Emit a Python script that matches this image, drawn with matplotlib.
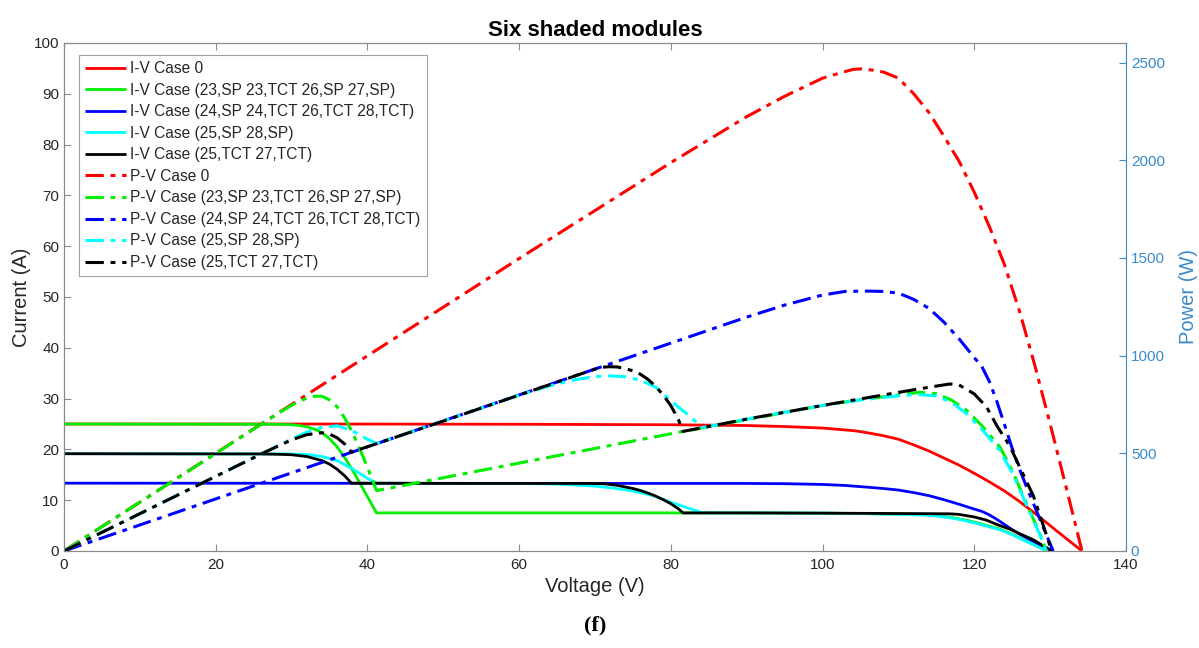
import numpy as np
import matplotlib
matplotlib.use("Agg")
import matplotlib.pyplot as plt

plt.rcParams['font.family'] = ['Liberation Sans', 'DejaVu Sans']

# ---------------- data ----------------
labels_iv = ["I-V Case 0",
             "I-V Case (23,SP 23,TCT 26,SP 27,SP)",
             "I-V Case (24,SP 24,TCT 26,TCT 28,TCT)",
             "I-V Case (25,SP 28,SP)",
             "I-V Case (25,TCT 27,TCT)"]
labels_pv = ["P-V Case 0",
             "P-V Case (23,SP 23,TCT 26,SP 27,SP)",
             "P-V Case (24,SP 24,TCT 26,TCT 28,TCT)",
             "P-V Case (25,SP 28,SP)",
             "P-V Case (25,TCT 27,TCT)"]

# Case 0
v_case0 = [0, 30, 60, 80, 90, 95, 100, 102, 104, 105, 106, 108, 110, 112, 114, 116, 118,
           120, 122, 124, 126, 128, 130, 132, 134.2]
i_case0 = [25.0, 25.0, 24.95, 24.85, 24.7, 24.5, 24.2, 23.95, 23.7, 23.5, 23.25, 22.7, 22.0,
           20.9, 19.7, 18.3, 16.9, 15.3, 13.6, 11.8, 9.7, 7.4, 5.0, 2.6, 0.0]

# Case (23,SP 23,TCT 26,SP 27,SP)
v_case23 = [0, 28, 30, 31, 32, 33, 34, 35, 36, 37, 38, 39, 40, 41.2, 60, 80, 100, 105, 110,
            112.8, 115, 117, 119, 121, 123.4, 125, 126.9, 128.5, 129.5]
i_case23 = [25.0, 24.95, 24.85, 24.7, 24.45, 24.0, 23.3, 22.1, 20.5, 18.4, 16.0, 13.4, 10.7,
            7.5, 7.5, 7.5, 7.45, 7.38, 7.26, 7.2, 7.0, 6.6, 6.05, 5.3, 4.3, 3.3, 1.9, 0.8, 0.0]

# Case (24,SP 24,TCT 26,TCT 28,TCT)
v_case24 = [0, 40, 80, 90, 95, 100, 103, 106, 108, 110, 112, 114, 116, 118, 120, 121, 122,
            123, 124, 125, 126, 127, 128, 129, 130.4]
i_case24 = [13.35, 13.33, 13.3, 13.3, 13.25, 13.1, 12.9, 12.55, 12.3, 12.0, 11.5, 10.9, 10.1,
            9.2, 8.25, 7.8, 7.1, 6.2, 5.2, 4.2, 3.3, 2.5, 1.75, 1.0, 0.0]

# Case (25,SP 28,SP)
v_case25sp = [0, 30, 32, 34, 36, 38, 40, 41.2, 50, 60, 64, 66, 68, 70, 72, 74, 76, 78, 80,
              82, 84.2, 90, 100, 105, 110, 112.5, 115, 117, 119, 121, 123.4, 125, 126.9,
              128.5, 129.5]
i_case25sp = [19.15, 19.1, 19.0, 18.6, 17.8, 16.2, 14.3, 13.35, 13.3, 13.3, 13.2, 13.1, 12.95,
              12.75, 12.45, 12.05, 11.5, 10.75, 9.6, 8.6, 7.5, 7.5, 7.45, 7.36, 7.22, 7.12,
              6.9, 6.5, 5.9, 5.15, 4.15, 3.2, 1.85, 0.75, 0.0]

# Case (25,TCT 27,TCT)
v_case25tct = [0, 26, 28, 30, 32, 34, 35, 36, 37, 37.9, 50, 70, 71, 72, 73, 74, 75, 76, 77,
               78, 79, 80, 81, 81.6, 90, 100, 110, 114, 116.8, 118, 120, 121.6, 123, 124.7,
               126, 127.8, 129, 130.2]
i_case25tct = [19.15, 19.1, 19.05, 18.95, 18.6, 17.8, 17.1, 16.1, 14.8, 13.35, 13.3, 13.3,
               13.25, 13.1, 12.9, 12.6, 12.3, 11.9, 11.4, 10.8, 10.1, 9.3, 8.3, 7.5, 7.5,
               7.45, 7.38, 7.35, 7.32, 7.2, 6.7, 6.07, 5.2, 4.3, 3.4, 2.2, 1.1, 0.0]

series_v = [v_case0, v_case23, v_case24, v_case25sp, v_case25tct]
series_i = [i_case0, i_case23, i_case24, i_case25sp, i_case25tct]
colors = ['#ff0000', '#00ee00', '#0000ff', '#00ffff', '#000000']

x_ticks = [0, 20, 40, 60, 80, 100, 120, 140]
y_ticks = [0, 10, 20, 30, 40, 50, 60, 70, 80, 90, 100]
p_ticks = [0, 500, 1000, 1500, 2000, 2500]

# ---------------- figure ----------------
W, H = 1199, 648
fig = plt.figure(figsize=(W / 100, H / 100), dpi=100)
ax = fig.add_axes([64 / W, 97 / H, 1062 / W, 508 / H])
ax2 = ax.twinx()

axis_gray = '#8a8a8a'
text_gray = '#262626'
right_blue = '#3a8ac8'
dashdot = (0, (6, 2.2, 1.6, 2.2))

handles = []
for v, i, c in zip(series_v, series_i, colors):
    h, = ax.plot(v, i, color=c, lw=2.0, solid_capstyle='butt')
    handles.append(h)

for v, i, c in zip(series_v, series_i, colors):
    p = np.multiply(v, i)
    h, = ax2.plot(v, p, color=c, lw=2.2, linestyle=dashdot)
    handles.append(h)

ax.set_xlim(0, 140)
ax.set_ylim(0, 100)
ax2.set_ylim(0, 2600)
ax.set_xticks(x_ticks)
ax.set_yticks(y_ticks)
ax2.set_yticks(p_ticks)

ax.tick_params(axis='both', direction='in', length=5, width=0.8, colors=axis_gray,
               labelcolor=text_gray, labelsize=11, top=True, right=False)
ax.tick_params(axis='x', pad=5)
ax2.tick_params(axis='y', direction='in', length=5, width=0.8, colors=right_blue,
                labelcolor=right_blue, labelsize=11)

for s in ['left', 'top', 'bottom']:
    ax.spines[s].set_color(axis_gray)
    ax2.spines[s].set_color(axis_gray)
ax.spines['right'].set_visible(False)
ax2.spines['right'].set_color(right_blue)

ax.set_xlabel('Voltage (V)', fontsize=14.5, color=text_gray, labelpad=4)
ax.set_ylabel('Current (A)', fontsize=14.5, color=text_gray, labelpad=2)
ax2.set_ylabel('Power (W)', fontsize=14.5, color=right_blue, labelpad=10)
ax.set_title('Six shaded modules', fontsize=16, fontweight='bold', color='black', pad=5)

leg = ax2.legend(handles, labels_iv + labels_pv, loc='upper left',
                 bbox_to_anchor=(15 / 1062, 1 - 12 / 508), fontsize=11.2,
                 frameon=True, fancybox=False, handlelength=2.6, handletextpad=0.3,
                 borderpad=0.4, labelspacing=0.42, borderaxespad=0)
leg.get_frame().set_edgecolor(axis_gray)
leg.get_frame().set_linewidth(0.8)
for t in leg.get_texts():
    t.set_color(text_gray)

fig.text(595 / W, 1 - 625 / H, '(f)', ha='center', va='center', fontsize=16,
         family=['Liberation Serif', 'DejaVu Serif'], fontweight='bold', color='black')

fig.savefig('out.png', dpi=100)
